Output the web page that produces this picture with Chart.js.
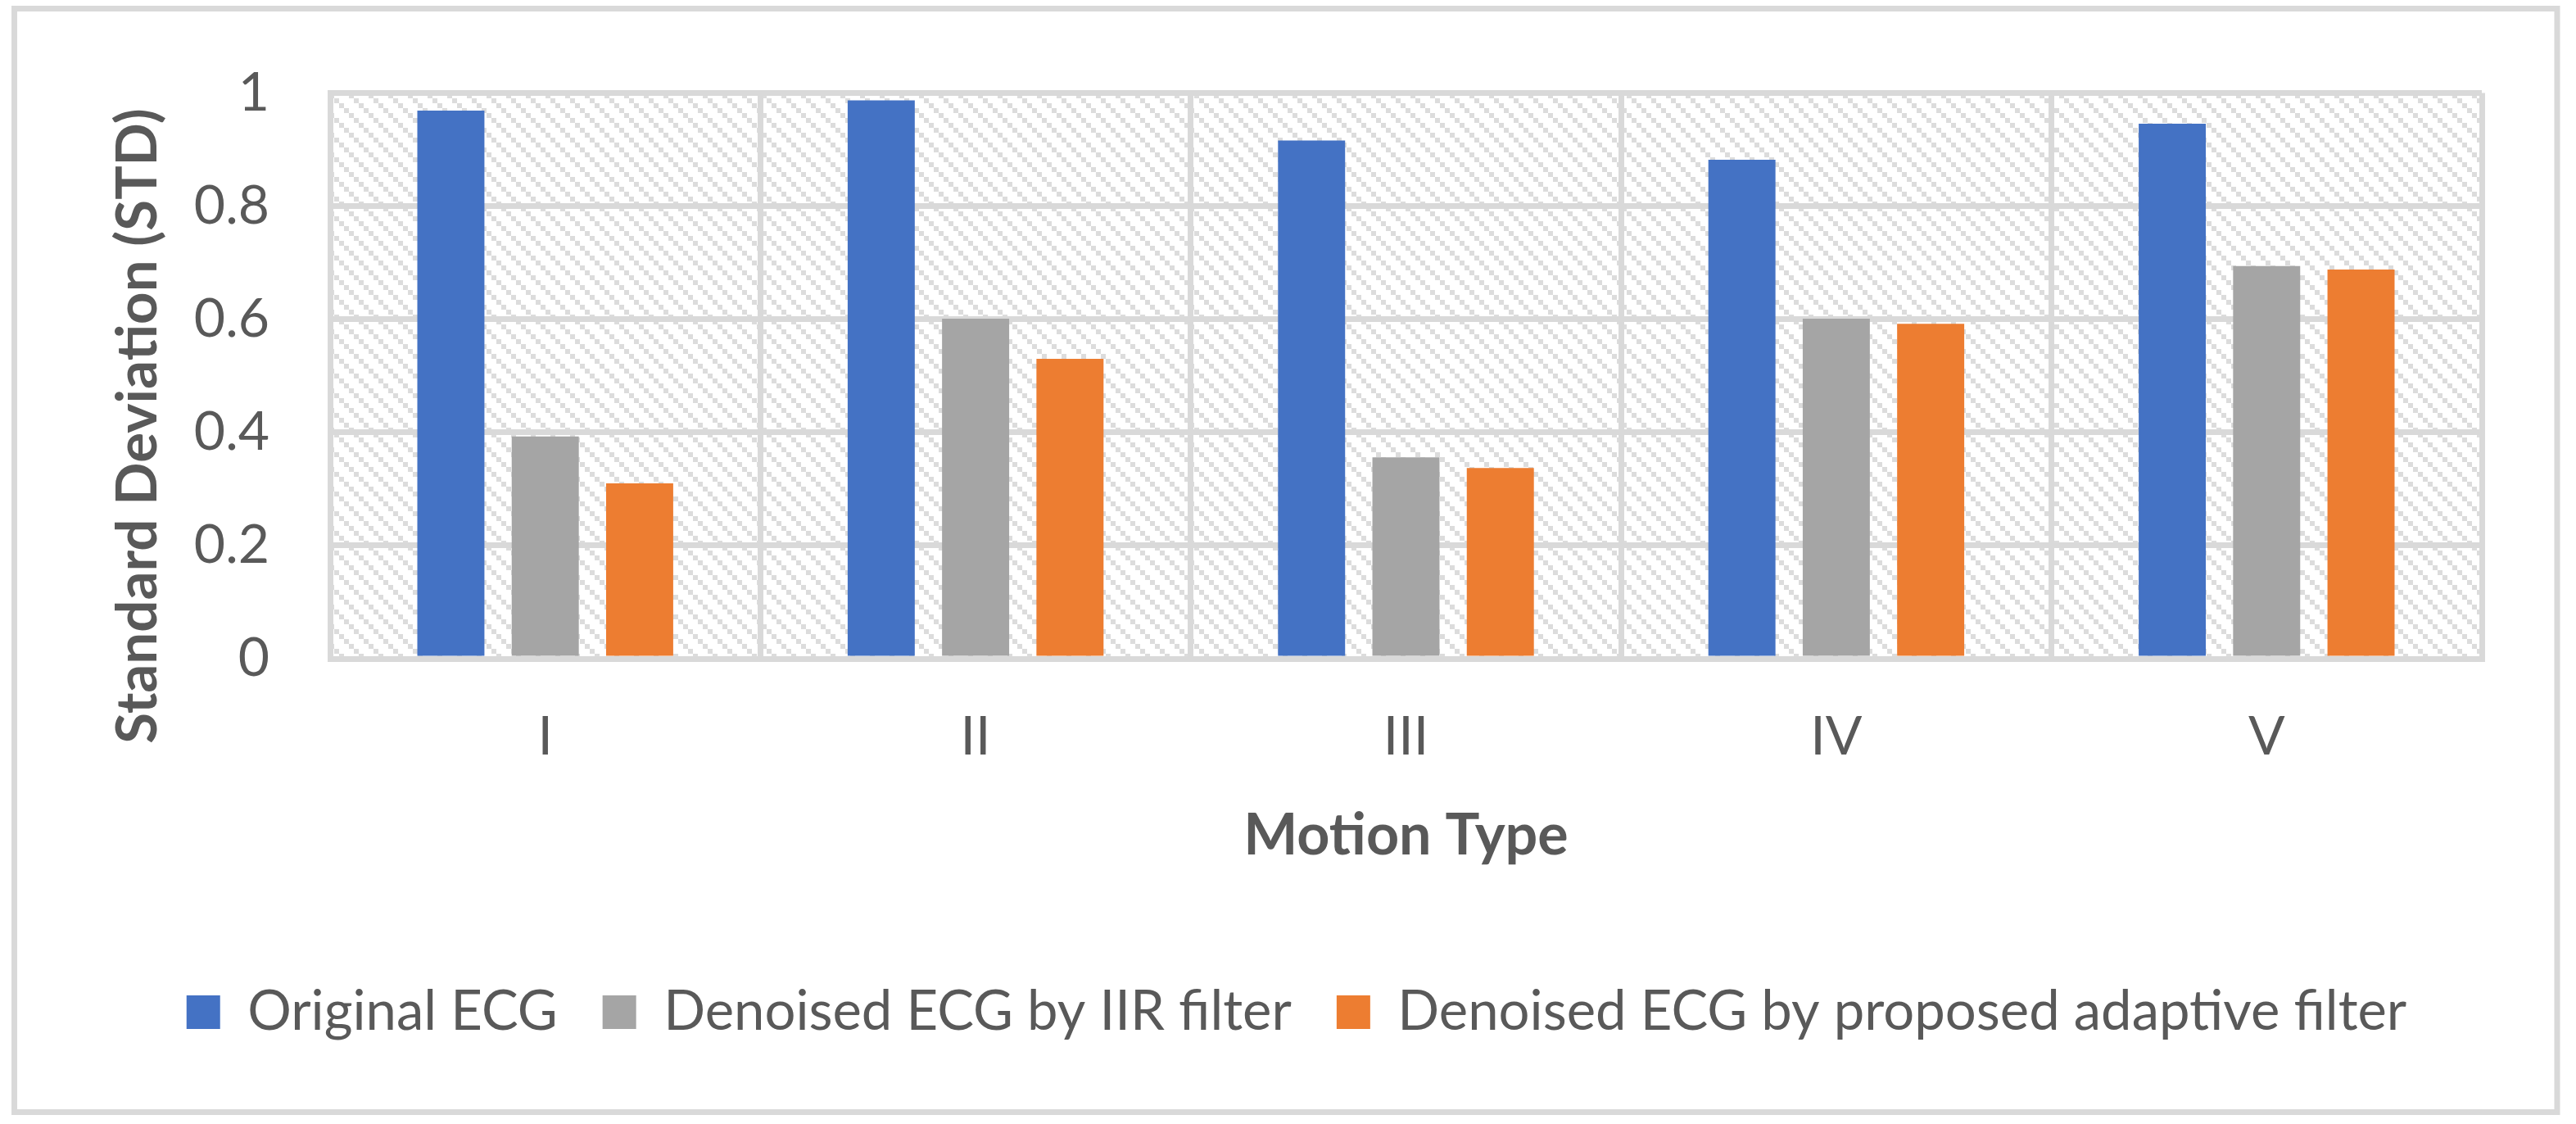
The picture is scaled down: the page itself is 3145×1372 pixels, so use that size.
<!DOCTYPE html>
<html><head><meta charset="utf-8">
<script src="https://cdn.jsdelivr.net/npm/chart.js@4.4.1/dist/chart.umd.min.js"></script>
<style>html,body{margin:0;padding:0;background:#fff;} canvas{display:block;}</style>
</head><body>
<canvas id="c" width="3145" height="1372" style="width:3145px;height:1372px"></canvas>
<script>
const categories = ['I', 'II', 'III', 'IV', 'V'];
const seriesNames = ['Original ECG', 'Denoised ECG by IIR filter', 'Denoised ECG by proposed adaptive filter'];
const originalECG = [0.969, 0.987, 0.916, 0.882, 0.946];
const iirECG = [0.393, 0.601, 0.356, 0.601, 0.694];
const adaptiveECG = [0.310, 0.530, 0.337, 0.592, 0.688];
const yTickLabels = ['0', '0.2', '0.4', '0.6', '0.8', '1'];
const xAxisTitle = 'Motion Type';
const yAxisTitle = 'Standard Deviation (STD)';

const TEXT = '#595959';
const GRID = '#d9d9d9';
const FONT = 'Lato';

// hatch pattern (wide downward diagonal look)
const tile = document.createElement('canvas');
tile.width = 24; tile.height = 24;
const tc = tile.getContext('2d');
tc.fillStyle = '#ffffff'; tc.fillRect(0, 0, 24, 24);
tc.fillStyle = '#dcdcdc';
for (let i = 0; i < 4; i++) tc.fillRect(i * 6, i * 6, 6, 6);
const ctx0 = document.getElementById('c').getContext('2d');
const hatch = ctx0.createPattern(tile, 'repeat');

const decor = {
  id: 'decor',
  beforeDraw(chart) {
    const {ctx, chartArea: a} = chart;
    ctx.save();
    ctx.fillStyle = '#ffffff';
    ctx.fillRect(0, 0, chart.width, chart.height);
    ctx.fillStyle = hatch;
    ctx.fillRect(a.left, a.top, a.right - a.left, a.bottom - a.top);
    ctx.strokeStyle = GRID;
    ctx.lineWidth = 7;
    ctx.strokeRect(17.5, 10.5, 3104.5, 1347);
    ctx.restore();
  },
  afterDraw(chart) {
    const {ctx} = chart;
    ctx.save();
    ctx.translate(169, 520);
    ctx.rotate(-Math.PI / 2);
    ctx.fillStyle = TEXT;
    ctx.font = 'bold 69px ' + FONT;
    ctx.textAlign = 'center';
    ctx.textBaseline = 'middle';
    ctx.fillText(yAxisTitle, 0, 0);
    ctx.restore();
  }
};

new Chart(document.getElementById('c'), {
  type: 'bar',
  data: {
    labels: categories,
    datasets: [
      {label: seriesNames[0], data: originalECG, backgroundColor: '#4472C4'},
      {label: seriesNames[1], data: iirECG, backgroundColor: '#A5A5A5'},
      {label: seriesNames[2], data: adaptiveECG, backgroundColor: '#ED7D31'}
    ]
  },
  options: {
    responsive: false,
    devicePixelRatio: 1,
    animation: false,
    layout: {padding: {top: 102, bottom: 93, left: 136, right: 115}},
    datasets: {bar: {categoryPercentage: 0.658, barPercentage: 0.711}},
    plugins: {
      legend: {
        position: 'bottom',
        labels: {
          color: TEXT,
          font: {family: FONT, size: 67},
          boxWidth: 41, boxHeight: 41,
          padding: 55
        }
      },
      tooltip: {enabled: false},
      title: {display: false}
    },
    scales: {
      x: {
        grid: {display: true, offset: true, color: GRID, lineWidth: 7, drawTicks: false},
        border: {display: true, color: GRID, width: 7},
        ticks: {color: TEXT, font: {family: FONT, size: 66}, padding: 56},
        title: {display: true, text: xAxisTitle, color: TEXT, font: {family: FONT, size: 70, weight: 'bold'}, padding: {top: 0, bottom: 85}},
        afterFit(s) { s.height = 343; }
      },
      y: {
        min: 0, max: 1,
        grid: {color: GRID, lineWidth: 7, drawTicks: false},
        border: {display: true, color: GRID, width: 7},
        ticks: {
          stepSize: 0.2, color: TEXT, font: {family: FONT, size: 66}, padding: 74,
          callback(v, i) { return yTickLabels[i]; }
        },
        afterFit(s) { s.width = 267; }
      }
    }
  },
  plugins: [decor]
});
</script>
</body></html>
